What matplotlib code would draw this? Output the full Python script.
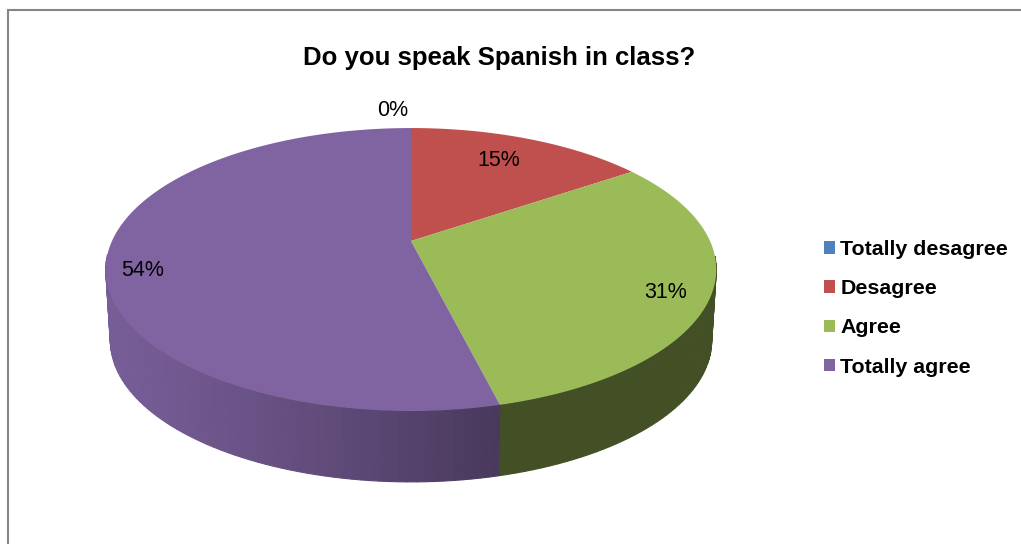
import numpy as np
import matplotlib
matplotlib.use("Agg")
import matplotlib.pyplot as plt
from matplotlib.patches import Patch

# Data
categories = ["Totally desagree", "Desagree", "Agree", "Totally agree"]
counts = [0, 2, 4, 7]
percent_labels = ["0%", "15%", "31%", "54%"]
title = "Do you speak Spanish in class?"

# Style
colors = ["#4F81BD", "#C0504D", "#9BBB59", "#8064A2"]
label_xy = [(393, 110), (499, 161), (666, 293), (143, 270)]
CX, CY, BX, AY, PERSP = 411, 241, 299, 135.7, 0.2013
DEPTH, BOTTOM_SCALE = 71, 0.985

plt.rcParams["font.family"] = ["Liberation Sans", "DejaVu Sans"]
fig = plt.figure(figsize=(10.21, 5.44), dpi=100, facecolor="white")
ax = fig.add_axes([0, 0, 1, 1])
ax.set_xlim(0, 1021)
ax.set_ylim(544, 0)
ax.axis("off")


def rim(theta, scale=1.0, shift=0.0):
    u, v = np.sin(theta), np.cos(theta)
    d = 1 + PERSP * v
    return CX + scale * BX * u / d, CY + shift - AY * v / d


def side_color(base, idx, x):
    rgb = np.array(matplotlib.colors.to_rgb(base))
    if idx == 3:  # purple side: darker toward the front
        f = 0.93 - 0.36 * np.clip((x - 107) / 390, 0, 1) ** 1.2
    else:
        f = 0.43
    return tuple(rgb * f)


shares = np.array(counts, dtype=float) / sum(counts)
edges = np.concatenate([[0], np.cumsum(shares)]) * 2 * np.pi

# Side wall (front part only)
for i, col in enumerate(colors):
    a0, a1 = edges[i], edges[i + 1]
    if a1 <= a0:
        continue
    th = np.linspace(a0, a1, max(int((a1 - a0) * 40), 2))
    for t0, t1 in zip(th[:-1], th[1:]):
        if np.cos((t0 + t1) / 2) > -0.1:
            continue
        x0, y0 = rim(t0)
        x1, y1 = rim(t1)
        x2, y2 = rim(t1, BOTTOM_SCALE, DEPTH)
        x3, y3 = rim(t0, BOTTOM_SCALE, DEPTH)
        c = side_color(col, i, (x0 + x1) / 2)
        ax.fill([x0, x1, x2, x3], [y0, y1, y2, y3], color=c, lw=0.8, zorder=2)

# Top face
for i, col in enumerate(colors):
    a0, a1 = edges[i], edges[i + 1]
    if a1 <= a0:
        continue
    th = np.linspace(a0, a1, 200)
    xs, ys = rim(th)
    ax.fill(np.r_[CX, xs], np.r_[CY, ys], color=col, lw=0, zorder=3)

# Percent labels
for (x, y), s in zip(label_xy, percent_labels):
    ax.text(x, y, s, fontsize=15.5, color="black", ha="center", va="center", zorder=5)

# Title
ax.text(499.5, 58, title, fontsize=18.5, fontweight="bold", ha="center", va="center")

# Chart border
ax.plot([7.5, 7.5, 1021], [544, 9.5, 9.5], color="#868686", lw=1.5, zorder=6,
        solid_joinstyle="miter")

# Legend
handles = [Patch(facecolor=c, edgecolor="none") for c in colors]
leg = ax.legend(handles, categories, loc="upper left", bbox_to_anchor=(824 / 1021, 1 - 240 / 544),
                bbox_transform=fig.transFigure, frameon=False, borderpad=0, borderaxespad=0,
                handlelength=0.52, handleheight=0.52, handletextpad=0.25, labelspacing=0.945,
                prop={"size": 15.4, "weight": "bold"})

fig.savefig("out.png", dpi=100, facecolor="white")
